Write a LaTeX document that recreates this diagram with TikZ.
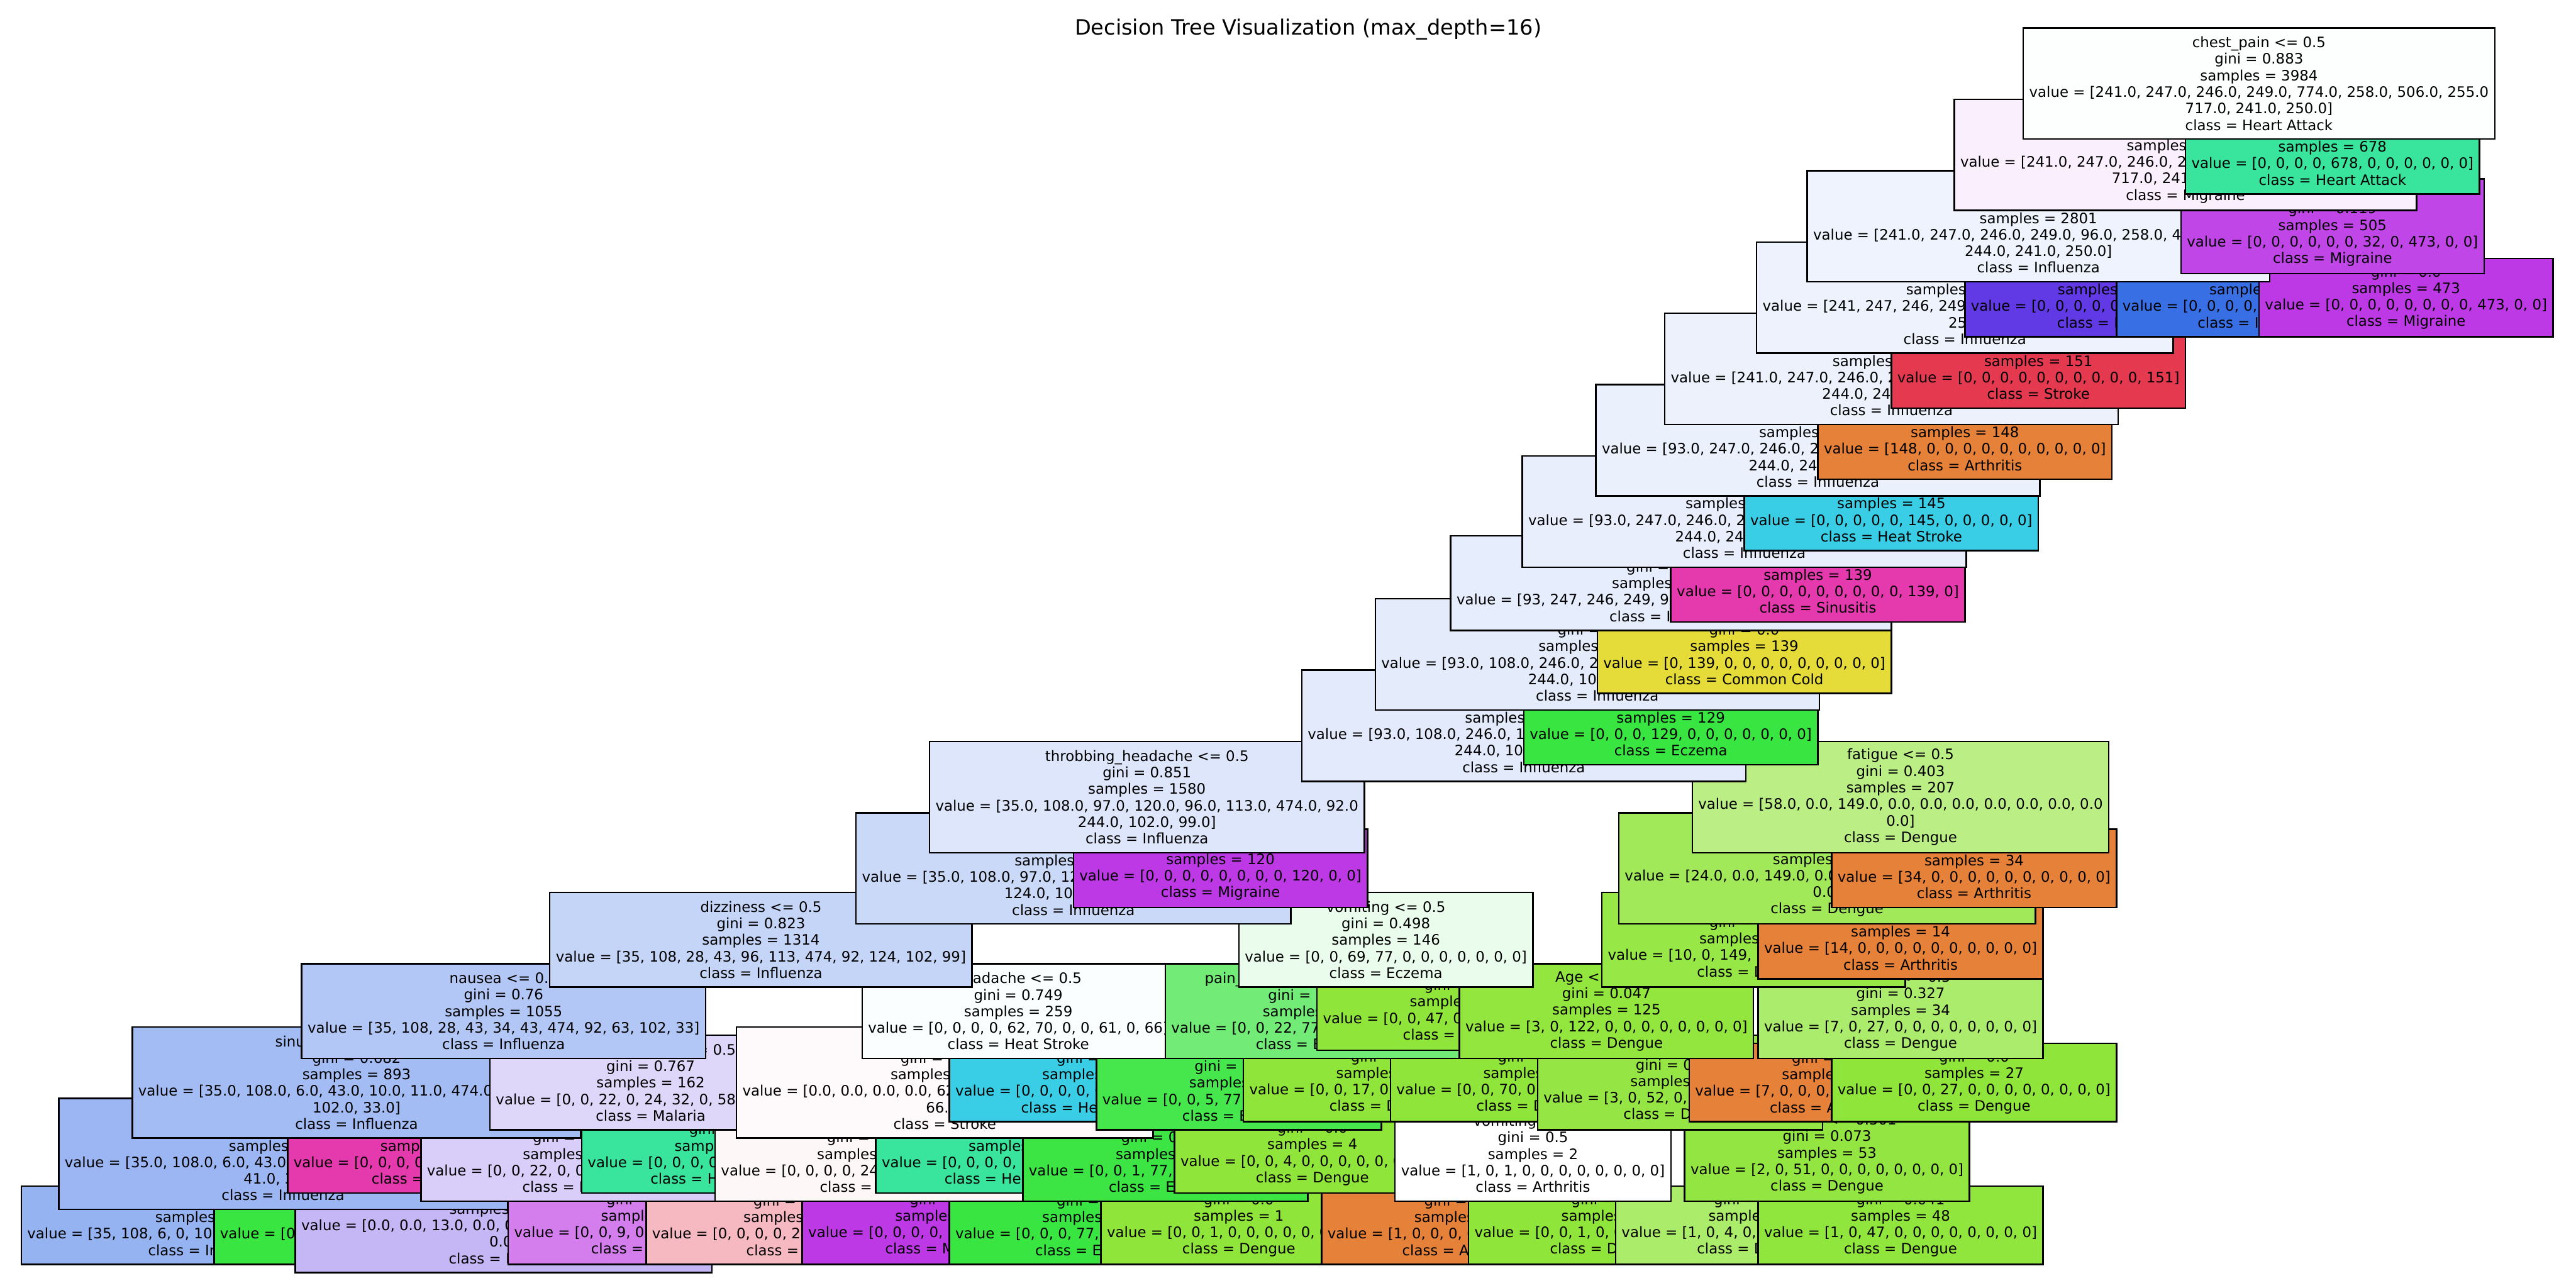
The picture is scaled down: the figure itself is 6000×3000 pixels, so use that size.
\documentclass[tikz,border=0pt]{standalone}
\usepackage{fontspec}
\setmainfont{DejaVu Sans}
\definecolor{kArt}{RGB}{229,129,57}
\definecolor{kCC}{RGB}{229,220,57}
\definecolor{kDen}{RGB}{143,229,57}
\definecolor{kEcz}{RGB}{57,229,65}
\definecolor{kHA}{RGB}{57,229,157}
\definecolor{kHS}{RGB}{57,206,229}
\definecolor{kInf}{RGB}{57,111,229}
\definecolor{kMal}{RGB}{97,57,229}
\definecolor{kMig}{RGB}{189,57,229}
\definecolor{kSin}{RGB}{229,57,174}
\definecolor{kStr}{RGB}{229,57,80}
\definecolor{cN0}{RGB}{252,255,253}
\definecolor{cA1}{RGB}{250,240,253}
\definecolor{cA2}{RGB}{238,243,253}
\definecolor{cB2}{RGB}{193,70,231}
\definecolor{cA3}{RGB}{237,242,253}
\definecolor{cA4}{RGB}{236,241,252}
\definecolor{cA5}{RGB}{234,240,252}
\definecolor{cA6}{RGB}{232,238,252}
\definecolor{cA7}{RGB}{230,237,252}
\definecolor{cA8}{RGB}{228,236,251}
\definecolor{cA9}{RGB}{226,234,251}
\definecolor{cTH}{RGB}{221,230,250}
\definecolor{cFAT}{RGB}{187,239,134}
\definecolor{cT11}{RGB}{203,217,248}
\definecolor{cF11}{RGB}{161,233,89}
\definecolor{cDIZ}{RGB}{197,213,247}
\definecolor{cVOM}{RGB}{234,252,235}
\definecolor{cF12}{RGB}{151,231,70}
\definecolor{cNAU}{RGB}{178,199,245}
\definecolor{cHEAD}{RGB}{251,254,254}
\definecolor{cPAIN}{RGB}{114,236,119}
\definecolor{cAGE}{RGB}{146,230,62}
\definecolor{cC34}{RGB}{172,236,108}
\definecolor{cS14}{RGB}{163,188,243}
\definecolor{cM14}{RGB}{223,215,250}
\definecolor{cH14}{RGB}{254,250,251}
\definecolor{cP14}{RGB}{70,231,77}
\definecolor{cA14R}{RGB}{149,230,68}
\definecolor{cS15}{RGB}{155,182,242}
\definecolor{cM15L}{RGB}{216,206,249}
\definecolor{cH15L}{RGB}{254,247,248}
\definecolor{cP15}{RGB}{60,229,68}
\definecolor{cN53}{RGB}{147,230,65}
\definecolor{cL1}{RGB}{149,178,241}
\definecolor{cMal103}{RGB}{197,182,245}
\definecolor{cMig35}{RGB}{212,126,238}
\definecolor{cPink}{RGB}{246,185,193}
\definecolor{cL104}{RGB}{171,236,106}
\definecolor{cL148}{RGB}{145,230,61}
\tikzset{
  nd/.style={draw=black, line width=0.9pt, rectangle, align=center,
    inner xsep=3.5pt, inner ysep=0pt, font=\fontsize{8.375}{9.625}\selectfont},
  Lfour/.style={nd, minimum height=45.5pt},
  Lfive/.style={nd, minimum height=55.125pt},
  Lsix/.style={nd, minimum height=64.75pt},
}
\begin{document}
\begin{tikzpicture}[x=0.25pt,y=-0.25pt]
\fill[white] (0,0) rectangle (6000,3000);
\useasboundingbox (0,0) rectangle (6000,3000);
% ---------- depth 16 ----------
\node[Lfour, fill=cL1] (L1) at (488,2853.7) {gini = 0.609\\samples = 789\\value = [35, 108, 6, 0, 10, 11, 474, 34, 37, 41, 33]\\class = Influenza};
\node[Lfour, fill=kEcz] (Ecz43) at (830.5,2853.7) {gini = 0.0\\samples = 43\\value = [0, 0, 0, 43, 0, 0, 0, 0, 0, 0, 0]\\class = Eczema};
\node[Lfive, fill=cMal103] (Mal103) at (1173,2853.7) {gini = 0.57\\samples = 103\\value = [0.0, 0.0, 13.0, 0.0, 0.0, 32.0, 0.0, 58.0, 0.0, 0.0\\0.0]\\class = Malaria};
\node[Lfour, fill=cMig35] (Mig35) at (1515.5,2853.7) {gini = 0.382\\samples = 35\\value = [0, 0, 9, 0, 0, 0, 0, 0, 26, 0, 0]\\class = Migraine};
\node[Lfour, fill=cPink] (Pink124) at (1858,2853.7) {gini = 0.604\\samples = 124\\value = [0, 0, 0, 0, 24, 34, 0, 0, 0, 0, 66]\\class = Stroke};
\node[Lfour, fill=kMig] (Mig61) at (2200.5,2853.7) {gini = 0.0\\samples = 61\\value = [0, 0, 0, 0, 0, 0, 0, 0, 61, 0, 0]\\class = Migraine};
\node[Lfour, fill=kEcz] (Ecz77) at (2543,2853.7) {gini = 0.0\\samples = 77\\value = [0, 0, 0, 77, 0, 0, 0, 0, 0, 0, 0]\\class = Eczema};
\node[Lfour, fill=kDen] (Den1) at (2885.5,2853.7) {gini = 0.0\\samples = 1\\value = [0, 0, 1, 0, 0, 0, 0, 0, 0, 0, 0]\\class = Dengue};
\node[Lfour, fill=kArt] (Art1) at (3399.25,2853.7) {gini = 0.0\\samples = 1\\value = [1, 0, 0, 0, 0, 0, 0, 0, 0, 0, 0]\\class = Arthritis};
\node[Lfour, fill=kDen] (Den1b) at (3741.75,2853.7) {gini = 0.0\\samples = 1\\value = [0, 0, 1, 0, 0, 0, 0, 0, 0, 0, 0]\\class = Dengue};
\node[Lfour, fill=cL104] (L104) at (4084.25,2853.7) {gini = 0.32\\samples = 5\\value = [1, 0, 4, 0, 0, 0, 0, 0, 0, 0, 0]\\class = Dengue};
\node[Lfour, fill=cL148] (L148) at (4426.75,2853.7) {gini = 0.041\\samples = 48\\value = [1, 0, 47, 0, 0, 0, 0, 0, 0, 0, 0]\\class = Dengue};
% ---------- depth 15 ----------
\node[Lsix, fill=cS15] (S15) at (659.25,2687.5) {itching <= 0.5\\gini = 0.646\\samples = 832\\value = [35.0, 108.0, 6.0, 43.0, 10.0, 11.0, 474.0, 34.0, 37.0\\41.0, 33.0]\\class = Influenza};
\node[Lfour, fill=kSin] (Sin61) at (1001.75,2687.5) {gini = 0.0\\samples = 61\\value = [0, 0, 0, 0, 0, 0, 0, 0, 0, 61, 0]\\class = Sinusitis};
\node[Lfive, fill=cM15L] (M15L) at (1344.25,2687.5) {chills <= 0.5\\gini = 0.709\\samples = 138\\value = [0, 0, 22, 0, 0, 32, 0, 58, 26, 0, 0]\\class = Malaria};
\node[Lfour, fill=kHA] (HA24) at (1686.75,2687.5) {gini = 0.0\\samples = 24\\value = [0, 0, 0, 0, 24, 0, 0, 0, 0, 0, 0]\\class = Heart Attack};
\node[Lfive, fill=cH15L] (H15L) at (2029.25,2687.5) {blurred\_vision <= 0.5\\gini = 0.713\\samples = 185\\value = [0, 0, 0, 0, 24, 34, 0, 0, 61, 0, 66]\\class = Stroke};
\node[Lfour, fill=kHA] (HA38) at (2371.75,2687.5) {gini = 0.0\\samples = 38\\value = [0, 0, 0, 0, 38, 0, 0, 0, 0, 0, 0]\\class = Heart Attack};
\node[Lfive, fill=cP15] (P15) at (2714.25,2687.5) {fever <= 0.5\\gini = 0.025\\samples = 78\\value = [0, 0, 1, 77, 0, 0, 0, 0, 0, 0, 0]\\class = Eczema};
\node[Lfour, fill=kDen] (Den4) at (3056.75,2687.5) {gini = 0.0\\samples = 4\\value = [0, 0, 4, 0, 0, 0, 0, 0, 0, 0, 0]\\class = Dengue};
\node[Lfive, fill=white] (V2) at (3570.5,2687.5) {vomiting <= 0.5\\gini = 0.5\\samples = 2\\value = [1, 0, 1, 0, 0, 0, 0, 0, 0, 0, 0]\\class = Arthritis};
\node[Lfive, fill=cN53] (N53) at (4255.5,2687.5) {sweating <= 0.501\\gini = 0.073\\samples = 53\\value = [2, 0, 51, 0, 0, 0, 0, 0, 0, 0, 0]\\class = Dengue};
% ---------- depth 14 ----------
\node[Lsix, fill=cS14] (S14) at (830.5,2521.3) {sinus\_pressure <= 0.5\\gini = 0.682\\samples = 893\\value = [35.0, 108.0, 6.0, 43.0, 10.0, 11.0, 474.0, 34.0, 37.0\\102.0, 33.0]\\class = Influenza};
\node[Lfive, fill=cM14] (M14) at (1515.5,2521.3) {abdominal\_pain <= 0.5\\gini = 0.767\\samples = 162\\value = [0, 0, 22, 0, 24, 32, 0, 58, 26, 0, 0]\\class = Malaria};
\node[Lsix, fill=cH14] (H14) at (2200.5,2521.3) {confusion <= 0.5\\gini = 0.737\\samples = 223\\value = [0.0, 0.0, 0.0, 0.0, 62.0, 34.0, 0.0, 0.0, 61.0, 0.0\\66.0]\\class = Stroke};
\node[Lfour, fill=kHS] (HS36) at (2543,2521.3) {gini = 0.0\\samples = 36\\value = [0, 0, 0, 0, 0, 36, 0, 0, 0, 0, 0]\\class = Heat Stroke};
\node[Lfive, fill=cP14] (P14) at (2885.5,2521.3) {blisters <= 0.5\\gini = 0.115\\samples = 82\\value = [0, 0, 5, 77, 0, 0, 0, 0, 0, 0, 0]\\class = Eczema};
\node[Lfour, fill=kDen] (Den17) at (3228,2521.3) {gini = 0.0\\samples = 17\\value = [0, 0, 17, 0, 0, 0, 0, 0, 0, 0, 0]\\class = Dengue};
\node[Lfour, fill=kDen] (Den70) at (3570.5,2521.3) {gini = 0.0\\samples = 70\\value = [0, 0, 70, 0, 0, 0, 0, 0, 0, 0, 0]\\class = Dengue};
\node[Lfive, fill=cA14R] (A14R) at (3913,2521.3) {Age <= 0.18\\gini = 0.103\\samples = 55\\value = [3, 0, 52, 0, 0, 0, 0, 0, 0, 0, 0]\\class = Dengue};
\node[Lfour, fill=kArt] (Art7) at (4255.5,2521.3) {gini = 0.0\\samples = 7\\value = [7, 0, 0, 0, 0, 0, 0, 0, 0, 0, 0]\\class = Arthritis};
\node[Lfour, fill=kDen] (Den27) at (4598,2521.3) {gini = 0.0\\samples = 27\\value = [0, 0, 27, 0, 0, 0, 0, 0, 0, 0, 0]\\class = Dengue};
% ---------- depth 13 ----------
\node[Lfive, fill=cNAU] (NAU) at (1173,2355.1) {nausea <= 0.5\\gini = 0.76\\samples = 1055\\value = [35, 108, 28, 43, 34, 43, 474, 92, 63, 102, 33]\\class = Influenza};
\node[Lfive, fill=cHEAD] (HEAD) at (2371.75,2355.1) {headache <= 0.5\\gini = 0.749\\samples = 259\\value = [0, 0, 0, 0, 62, 70, 0, 0, 61, 0, 66]\\class = Heat Stroke};
\node[Lfive, fill=cPAIN] (PAIN) at (3056.75,2355.1) {pain\_behind\_the\_eyes <= 0.5\\gini = 0.346\\samples = 99\\value = [0, 0, 22, 77, 0, 0, 0, 0, 0, 0, 0]\\class = Eczema};
\node[Lfour, fill=kDen] (Den47) at (3399.25,2355.1) {gini = 0.0\\samples = 47\\value = [0, 0, 47, 0, 0, 0, 0, 0, 0, 0, 0]\\class = Dengue};
\node[Lfive, fill=cAGE] (AGE) at (3741.75,2355.1) {Age <= 0.501\\gini = 0.047\\samples = 125\\value = [3, 0, 122, 0, 0, 0, 0, 0, 0, 0, 0]\\class = Dengue};
\node[Lfive, fill=cC34] (C34) at (4426.75,2355.1) {cough <= 0.5\\gini = 0.327\\samples = 34\\value = [7, 0, 27, 0, 0, 0, 0, 0, 0, 0, 0]\\class = Dengue};
% ---------- depth 12 ----------
\node[Lfive, fill=cDIZ] (DIZ) at (1772.375,2188.9) {dizziness <= 0.5\\gini = 0.823\\samples = 1314\\value = [35, 108, 28, 43, 96, 113, 474, 92, 124, 102, 99]\\class = Influenza};
\node[Lfive, fill=cVOM] (VOM) at (3228,2188.9) {vomiting <= 0.5\\gini = 0.498\\samples = 146\\value = [0, 0, 69, 77, 0, 0, 0, 0, 0, 0, 0]\\class = Eczema};
\node[Lfive, fill=cF12] (F12) at (4084.25,2188.9) {swelling <= 0.5\\gini = 0.118\\samples = 159\\value = [10, 0, 149, 0, 0, 0, 0, 0, 0, 0, 0]\\class = Dengue};
\node[Lfour, fill=kArt] (Art14) at (4426.75,2188.9) {gini = 0.0\\samples = 14\\value = [14, 0, 0, 0, 0, 0, 0, 0, 0, 0, 0]\\class = Arthritis};
% ---------- depth 11 ----------
\node[Lsix, fill=cT11] (T11) at (2500.19,2022.7) {rash <= 0.5\\gini = 0.846\\samples = 1460\\value = [35.0, 108.0, 97.0, 120.0, 96.0, 113.0, 474.0, 92.0\\124.0, 102.0, 99.0]\\class = Influenza};
\node[Lfour, fill=kMig] (Mig120) at (2842.69,2022.7) {gini = 0.0\\samples = 120\\value = [0, 0, 0, 0, 0, 0, 0, 0, 120, 0, 0]\\class = Migraine};
\node[Lsix, fill=cF11] (F11) at (4255.5,2022.7) {stiffness <= 0.5\\gini = 0.239\\samples = 173\\value = [24.0, 0.0, 149.0, 0.0, 0.0, 0.0, 0.0, 0.0, 0.0, 0.0\\0.0]\\class = Dengue};
\node[Lfour, fill=kArt] (Art34) at (4598,2022.7) {gini = 0.0\\samples = 34\\value = [34, 0, 0, 0, 0, 0, 0, 0, 0, 0, 0]\\class = Arthritis};
% ---------- depth 10 ----------
\node[Lsix, fill=cTH] (TH) at (2671.44,1856.5) {throbbing\_headache <= 0.5\\gini = 0.851\\samples = 1580\\value = [35.0, 108.0, 97.0, 120.0, 96.0, 113.0, 474.0, 92.0\\244.0, 102.0, 99.0]\\class = Influenza};
\node[Lsix, fill=cFAT] (FAT) at (4426.75,1856.5) {fatigue <= 0.5\\gini = 0.403\\samples = 207\\value = [58.0, 0.0, 149.0, 0.0, 0.0, 0.0, 0.0, 0.0, 0.0, 0.0\\0.0]\\class = Dengue};
% ---------- depth 9 ----------
\node[Lsix, fill=cA9] (A9) at (3549.09,1690.3) {body\_ache <= 0.5\\gini = 0.865\\samples = 1787\\value = [93.0, 108.0, 246.0, 120.0, 96.0, 113.0, 474.0, 92.0\\244.0, 102.0, 99.0]\\class = Influenza};
\node[Lfour, fill=kEcz] (Ecz129) at (3891.59,1690.3) {gini = 0.0\\samples = 129\\value = [0, 0, 0, 129, 0, 0, 0, 0, 0, 0, 0]\\class = Eczema};
% ---------- depth 8 ----------
\node[Lsix, fill=cA8] (A8) at (3720.34,1524.1) {itchy\_skin <= 0.5\\gini = 0.87\\samples = 1916\\value = [93.0, 108.0, 246.0, 249.0, 96.0, 113.0, 474.0, 92.0\\244.0, 102.0, 99.0]\\class = Influenza};
\node[Lfour, fill=kCC] (CC139) at (4062.84,1524.1) {gini = 0.0\\samples = 139\\value = [0, 139, 0, 0, 0, 0, 0, 0, 0, 0, 0]\\class = Common Cold};
% ---------- depth 7 ----------
\node[Lfive, fill=cA7] (A7) at (3891.59,1357.9) {sneezing <= 0.5\\gini = 0.875\\samples = 2055\\value = [93, 247, 246, 249, 96, 113, 474, 92, 244, 102, 99]\\class = Influenza};
\node[Lfour, fill=kSin] (Sin139) at (4234.09,1357.9) {gini = 0.0\\samples = 139\\value = [0, 0, 0, 0, 0, 0, 0, 0, 0, 139, 0]\\class = Sinusitis};
% ---------- depth 6 ----------
\node[Lsix, fill=cA6] (A6) at (4062.84,1191.7) {facial\_pain <= 0.5\\gini = 0.881\\samples = 2194\\value = [93.0, 247.0, 246.0, 249.0, 96.0, 113.0, 474.0, 92.0\\244.0, 241.0, 99.0]\\class = Influenza};
\node[Lfour, fill=kHS] (HS145) at (4405.34,1191.7) {gini = 0.0\\samples = 145\\value = [0, 0, 0, 0, 0, 145, 0, 0, 0, 0, 0]\\class = Heat Stroke};
% ---------- depth 5 ----------
\node[Lsix, fill=cA5] (A5) at (4234.09,1025.5) {high\_fever <= 0.5\\gini = 0.885\\samples = 2339\\value = [93.0, 247.0, 246.0, 249.0, 96.0, 258.0, 474.0, 92.0\\244.0, 241.0, 99.0]\\class = Influenza};
\node[Lfour, fill=kArt] (Art148) at (4576.59,1025.5) {gini = 0.0\\samples = 148\\value = [148, 0, 0, 0, 0, 0, 0, 0, 0, 0, 0]\\class = Arthritis};
% ---------- depth 4 ----------
\node[Lsix, fill=cA4] (A4) at (4405.34,859.3) {joint\_pain <= 0.5\\gini = 0.89\\samples = 2487\\value = [241.0, 247.0, 246.0, 249.0, 96.0, 258.0, 474.0, 92.0\\244.0, 241.0, 99.0]\\class = Influenza};
\node[Lfour, fill=kStr] (Str151) at (4747.84,859.3) {gini = 0.0\\samples = 151\\value = [0, 0, 0, 0, 0, 0, 0, 0, 0, 0, 151]\\class = Stroke};
% ---------- depth 3 ----------
\node[Lsix, fill=cA3] (A3) at (4576.59,693.1) {numbness <= 0.5\\gini = 0.895\\samples = 2638\\value = [241, 247, 246, 249, 96, 258, 474, 92, 244, 241\\250]\\class = Influenza};
\node[Lfour, fill=kMal] (Mal163) at (4919.09,693.1) {gini = 0.0\\samples = 163\\value = [0, 0, 0, 0, 0, 0, 0, 163, 0, 0, 0]\\class = Malaria};
\node[Lfour, fill=kInf] (Inf32) at (5261.59,693.1) {gini = 0.0\\samples = 32\\value = [0, 0, 0, 0, 0, 0, 32, 0, 0, 0, 0]\\class = Influenza};
\node[Lfour, fill=kMig] (Mig473) at (5604.09,693.1) {gini = 0.0\\samples = 473\\value = [0, 0, 0, 0, 0, 0, 0, 0, 473, 0, 0]\\class = Migraine};
% ---------- depth 2 ----------
\node[Lsix, fill=cA2] (A2) at (4747.84,526.9) {chills <= 0.5\\gini = 0.9\\samples = 2801\\value = [241.0, 247.0, 246.0, 249.0, 96.0, 258.0, 474.0, 255.0\\244.0, 241.0, 250.0]\\class = Influenza};
\node[Lfive, fill=cB2] (B2) at (5432.84,526.9) {fever <= 0.5\\gini = 0.119\\samples = 505\\value = [0, 0, 0, 0, 0, 0, 32, 0, 473, 0, 0]\\class = Migraine};
% ---------- depth 1 ----------
\node[Lsix, fill=cA1] (A1) at (5090.34,360.7) {light\_sensitivity <= 0.5\\gini = 0.884\\samples = 3306\\value = [241.0, 247.0, 246.0, 249.0, 96.0, 258.0, 506.0, 255.0\\717.0, 241.0, 250.0]\\class = Migraine};
\node[Lfour, fill=kHA] (HA678) at (5432.84,360.7) {gini = 0.0\\samples = 678\\value = [0, 0, 0, 0, 678, 0, 0, 0, 0, 0, 0]\\class = Heart Attack};
% ---------- depth 0 ----------
\node[Lsix, fill=cN0] (N0) at (5261.59,194.5) {chest\_pain <= 0.5\\gini = 0.883\\samples = 3984\\value = [241.0, 247.0, 246.0, 249.0, 774.0, 258.0, 506.0, 255.0\\717.0, 241.0, 250.0]\\class = Heart Attack};
% ---------- title ----------
\node[anchor=base, inner sep=0pt, font=\fontsize{12.3}{14}\selectfont] (title) at (3047,82) {Decision Tree Visualization (max\_depth=16)};
\end{tikzpicture}
\end{document}
